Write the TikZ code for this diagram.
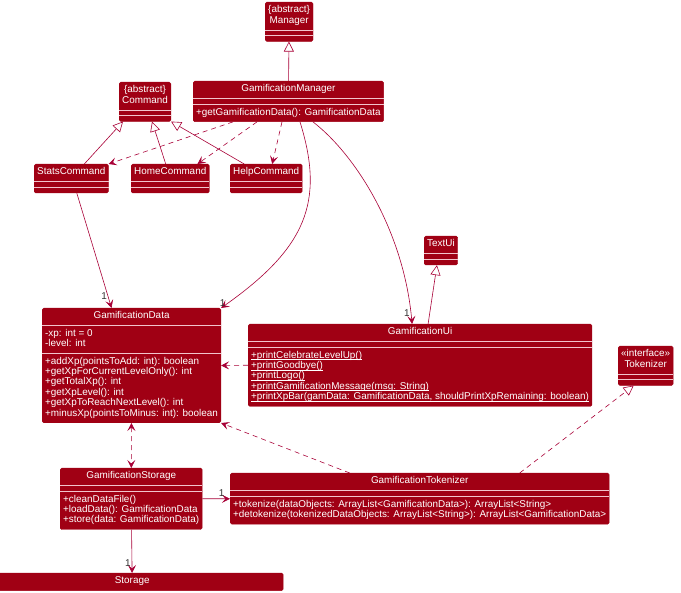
\documentclass[tikz,border=0pt]{standalone}
\usepackage{fontspec}
\setmainfont{Liberation Sans}
\usetikzlibrary{arrows.meta,shapes.multipart}
\definecolor{umlred}{HTML}{A00014}
\definecolor{umlline}{HTML}{A80036}
\definecolor{umlsplit}{HTML}{F2C4CC}
% one compartment of a class box, padded top and bottom
\newcommand{\cmpt}[1]{\rule{0pt}{10.6pt}#1\rule[-6.4pt]{0pt}{6.4pt}}
% static member: underlined just below the baseline
\newcommand{\static}[1]{\underline{\smash{#1}}}

\begin{document}
\begin{tikzpicture}[
  x=1pt,y=-1pt,
  >={Stealth[length=8pt,width=8pt,inset=3.5pt]},
  every node/.style={font=\fontsize{9.9}{10.4}\selectfont},
  umlclass/.style={rectangle split,rectangle split parts=3,
                   rectangle split draw splits=false,
                   rectangle split part align={center,left,left},
                   rectangle split empty part height=5pt,
                   rectangle split empty part depth=0pt,
                   draw=umlred,fill=umlred,text=white,rounded corners=1.5pt,
                   inner xsep=3pt,inner ysep=0pt,align=left,anchor=north west,
                   every text node part/.style={align=center}},
  splitline/.style={umlsplit,line width=0.7pt},
  assoc/.style={->,umlline,line width=0.6pt},
  depends/.style={assoc,dash pattern=on 5pt off 4pt},
  extends/.style={-{Triangle[open,fill=white,length=10pt,width=10pt]},
                  umlline,line width=0.6pt},
  realizes/.style={extends,dash pattern=on 5pt off 4pt},
  mult/.style={text=black!80,inner sep=0pt}
]
\useasboundingbox (0,0) rectangle (681,593);

% classes
\node[umlclass] (manager) at (265,2) {\cmpt{\{abstract\}\\Manager}};
\node[umlclass] (gamManager) at (193,81) {\cmpt{GamificationManager}
  \nodepart{three}\cmpt{+getGamificationData(): GamificationData}};
\node[umlclass] (command) at (119,82) {\cmpt{\{abstract\}\\Command}};
\node[umlclass] (statsCmd) at (34,164) {\cmpt{StatsCommand}};
\node[umlclass] (homeCmd) at (131,164) {\cmpt{HomeCommand}};
\node[umlclass] (helpCmd) at (230,164) {\cmpt{HelpCommand}};
\node[umlclass] (gamData) at (42,308) {\cmpt{GamificationData}
  \nodepart{two}\cmpt{-xp: int = 0\\-level: int}
  \nodepart{three}\cmpt{+addXp(pointsToAdd: int): boolean\\
    +getXpForCurrentLevelOnly(): int\\
    +getTotalXp(): int\\
    +getXpLevel(): int\\
    +getXpToReachNextLevel(): int\\
    +minusXp(pointsToMinus: int): boolean}};
\node[umlclass] (textUi) at (424,236) {\cmpt{TextUi}};
\node[umlclass] (gamUi) at (248,324) {\cmpt{GamificationUi}
  \nodepart{three}\cmpt{\static{+printCelebrateLevelUp()}\\
    \static{+printGoodbye()}\\
    \static{+printLogo()}\\
    \static{+printGamificationMessage(msg: String)}\\
    \static{+printXpBar(gamData: GamificationData, shouldPrintXpRemaining: boolean)}}};
\node[umlclass] (tokenizer) at (618,346) {\cmpt{«interface»\\Tokenizer}};
\node[umlclass] (gamStorage) at (60,468) {\cmpt{GamificationStorage}
  \nodepart{three}\cmpt{+cleanDataFile()\\
    +loadData(): GamificationData\\
    +store(data: GamificationData)}};
\node[umlclass] (gamTokenizer) at (230,473) {\cmpt{GamificationTokenizer}
  \nodepart{three}\cmpt{+tokenize(dataObjects: ArrayList<GamificationData>): ArrayList<String>\\
    +detokenize(tokenizedDataObjects: ArrayList<String>): ArrayList<GamificationData>}};
\node[umlclass,rectangle split parts=1,minimum width=302pt,minimum height=26pt]
  (storage) at (-19,573) {\cmpt{Storage}};

% compartment lines
\foreach \c in {manager,gamManager,command,statsCmd,homeCmd,helpCmd,gamData,
                textUi,gamUi,tokenizer,gamStorage,gamTokenizer}
  \draw[splitline] (\c.text split west) -- (\c.text split east)
                   (\c.two split west) -- (\c.two split east);

% relations
\draw[extends] (gamManager) -- (manager);
\draw[extends] ([xshift=13pt]statsCmd.north) -- ([xshift=4pt]command.south west);
\draw[extends] ([xshift=-4.5pt]homeCmd.north) -- ([xshift=7pt]command.south);
\draw[extends] ([xshift=-22pt]helpCmd.north) -- (command.south east);
\draw[depends] ([xshift=40pt]gamManager.south west) -- (statsCmd.north east);
\draw[depends] ([xshift=64pt]gamManager.south west) -- ([xshift=-12pt]homeCmd.north east);
\draw[depends] ([xshift=89pt]gamManager.south west) -- ([xshift=6pt]helpCmd.north);
\draw[assoc] ([xshift=107pt]gamManager.south west) .. controls +(25,80) and +(85,-60) ..
  (gamData.north east) node[mult,pos=0.97,left=3pt] {1};
\draw[assoc] ([xshift=120pt]gamManager.south west) .. controls +(45,35) and +(-8,-90) ..
  ([xshift=-8pt]gamUi.north) node[mult,pos=0.96,left=1pt] {1};
\draw[assoc] ([xshift=5.5pt]statsCmd.south) -- ([xshift=-20pt]gamData.north)
  node[mult,pos=0.9,left=1pt] {1};
\draw[extends] ([xshift=8pt]gamUi.north) -- ([xshift=-4pt]textUi.south);
\draw[depends] (gamUi.west) -- (gamData.east);
\draw[depends] ([xshift=-70pt]gamTokenizer.north) -- (gamData.south east);
\draw[realizes] ([xshift=100pt]gamTokenizer.north) -- ([xshift=-12pt]tokenizer.south);
\draw[depends,<->] (gamData) -- (gamStorage);
\draw[assoc] (gamStorage) -- (gamTokenizer) node[mult,pos=0.7,above=2pt] {1};
\draw[assoc] (gamStorage) -- (storage) node[mult,pos=0.78,left=1pt] {1};
\end{tikzpicture}
\end{document}
